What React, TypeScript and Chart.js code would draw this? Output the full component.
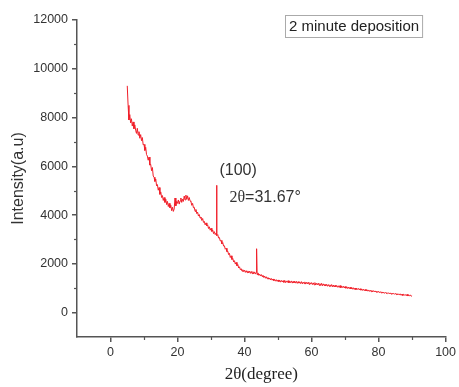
import React, { useEffect, useRef } from 'react';
import { Chart, registerables } from 'chart.js';

Chart.register(...registerables);

// ---- data ----
const scanStart = 5; // degrees 2θ
const scanStep = 0.25; // degrees per sample
const intensity = [
  // 5.00 – 9.75
  9300, 8500, 7900, 8120, 7780, 7950, 7650, 7820, 7540, 7700, 7480, 7350, 7560, 7280, 7420, 7150, 7300, 7050, 7180, 6880,
  // 10.00 – 14.75
  6900, 6650, 6780, 6480, 6420, 6250, 6380, 6050, 6080, 5820, 5950, 5600, 5550, 5380, 5480, 5200, 5250, 5020, 5130, 4850,
  // 15.00 – 19.75
  4950, 4720, 4800, 4600, 4720, 4520, 4650, 4430, 4560, 4350, 4480, 4300, 4400, 4180, 4320, 4150, 4250, 4700, 4380, 4560,
  // 20.00 – 24.75
  4480, 4620, 4450, 4580, 4700, 4520, 4650, 4560, 4780, 4620, 4820, 4650, 4790, 4600, 4720, 4580, 4560, 4400, 4480, 4300,
  // 25.00 – 29.75
  4320, 4150, 4230, 4060, 4120, 3960, 4020, 3880, 3920, 3780, 3860, 3700, 3740, 3600, 3680, 3560, 3600, 3450, 3520, 3380,
  // 30.00 – 34.75
  3460, 3330, 3390, 3240, 3320, 3200, 3260, 3160, 3200, 3060, 3080, 2940, 2960, 2820, 2870, 2730, 2740, 2600, 2640, 2500,
  // 35.00 – 39.75
  2520, 2380, 2430, 2260, 2330, 2180, 2220, 2080, 2130, 1990, 2060, 1920, 1970, 1830, 1880, 1760, 1800, 1700, 1760, 1680,
  // 40.00 – 44.75
  1740, 1650, 1720, 1640, 1710, 1630, 1700, 1610, 1690, 1600, 1680, 1590, 1670, 1580, 1650, 1560, 1630, 1530, 1580, 1500,
  // 45.00 – 49.75
  1560, 1480, 1530, 1440, 1500, 1410, 1470, 1390, 1440, 1370, 1420, 1340, 1400, 1330, 1380, 1310, 1360, 1290, 1350, 1280,
  // 50.00 – 54.75
  1340, 1270, 1330, 1250, 1320, 1260, 1310, 1240, 1320, 1230, 1300, 1240, 1310, 1220, 1290, 1230, 1300, 1210, 1280, 1220,
  // 55.00 – 59.75
  1290, 1210, 1280, 1200, 1270, 1210, 1260, 1190, 1270, 1180, 1250, 1190, 1260, 1170, 1240, 1180, 1250, 1160, 1230, 1170,
  // 60.00 – 64.75
  1230, 1150, 1220, 1140, 1230, 1130, 1200, 1140, 1210, 1120, 1190, 1110, 1200, 1100, 1180, 1110, 1170, 1090, 1160, 1080,
  // 65.00 – 69.75
  1150, 1080, 1140, 1070, 1150, 1060, 1130, 1050, 1120, 1060, 1110, 1040, 1100, 1030, 1110, 1020, 1090, 1030, 1080, 1010,
  // 70.00 – 74.75
  1070, 1000, 1060, 990, 1050, 980, 1040, 970, 1030, 960, 1020, 950, 1010, 940, 1000, 950, 990, 930, 980, 920,
  // 75.00 – 79.75
  970, 910, 960, 900, 950, 890, 940, 880, 930, 870, 920, 860, 910, 850, 900, 850, 890, 840, 880, 830,
  // 80.00 – 84.75
  870, 820, 860, 810, 850, 800, 840, 790, 830, 790, 820, 780, 810, 770, 810, 760, 800, 760, 790, 750,
  // 85.00 – 89.75
  790, 740, 780, 730, 770, 720, 770, 710, 760, 700, 750, 720, 740, 690, 750, 680, 730, 690, 720, 670,
  // 90.00
  700,
];
const peakAngles = [31.67, 43.6];
const peakIntensity = [5220, 2620];

const xRange = [-10, 100];
const yRange = [-1000, 12000];
const xTickValues = [0, 20, 40, 60, 80, 100];
const yTickValues = [0, 2000, 4000, 6000, 8000, 10000, 12000];
const xMinorTicks = [10, 30, 50, 70, 90];
const yMinorTicks = [1000, 3000, 5000, 7000, 9000, 11000];

const legendText = '2 minute deposition';
const peakLabel = '(100)';
const peakAngleSymbol = '2θ';
const peakAngleValue = '=31.67°';
const xTitle = '2θ(degree)';
const yTitle = 'Intensity(a.u)';

const SANS = '"Liberation Sans", Arial, sans-serif';
const SERIF = '"Liberation Serif", "Times New Roman", serif';
const AXIS = '#555';

function buildPoints() {
  const pts = intensity.map((v, i) => ({ x: scanStart + i * scanStep, y: v }));
  peakAngles.forEach((a, i) => pts.push({ x: a, y: peakIntensity[i] }));
  pts.sort((a, b) => a.x - b.x);
  return pts;
}

const decorPlugin = {
  id: 'decor',
  afterDraw(chart: any) {
    const { ctx, chartArea, scales } = chart;
    const x = scales.x;
    const y = scales.y;
    ctx.save();
    // minor ticks
    ctx.strokeStyle = AXIS;
    ctx.lineWidth = 1.2;
    xMinorTicks.forEach((v) => {
      const px = Math.round(x.getPixelForValue(v)) + 0.5;
      ctx.beginPath();
      ctx.moveTo(px, chartArea.bottom);
      ctx.lineTo(px, chartArea.bottom + 3);
      ctx.stroke();
    });
    yMinorTicks.forEach((v) => {
      const py = Math.round(y.getPixelForValue(v)) + 0.5;
      ctx.beginPath();
      ctx.moveTo(chartArea.left, py);
      ctx.lineTo(chartArea.left - 3, py);
      ctx.stroke();
    });

    // legend-like box
    ctx.font = '15px ' + SANS;
    const tw = ctx.measureText(legendText).width;
    const bx = Math.round(x.getPixelForValue(52)) + 0.5;
    const by = Math.round(y.getPixelForValue(12200)) + 0.5;
    ctx.strokeStyle = '#aaa';
    ctx.lineWidth = 1;
    ctx.strokeRect(bx, by, tw + 7, 22);
    ctx.fillStyle = '#222';
    ctx.textBaseline = 'middle';
    ctx.textAlign = 'left';
    ctx.fillText(legendText, bx + 3.5, by + 11.5);

    // peak annotation
    ctx.fillStyle = '#333';
    ctx.font = '16px ' + SANS;
    ctx.fillText(peakLabel, x.getPixelForValue(32.5), y.getPixelForValue(5840));
    const ax = x.getPixelForValue(35.5);
    const ay = y.getPixelForValue(4700);
    ctx.font = '16px ' + SERIF;
    ctx.fillText(peakAngleSymbol, ax, ay);
    const sw = ctx.measureText(peakAngleSymbol).width;
    ctx.font = '16px ' + SANS;
    ctx.fillText(peakAngleValue, ax + sw, ay);
    ctx.restore();
  },
};

export default function App() {
  const ref = useRef<HTMLCanvasElement>(null);

  useEffect(() => {
    if (!ref.current) return;
    const chart = new Chart(ref.current, {
      type: 'line',
      data: {
        datasets: [
          {
            data: buildPoints(),
            borderColor: '#f01e28',
            borderWidth: 1,
            pointRadius: 0,
            tension: 0,
            fill: false,
          },
        ],
      },
      options: {
        animation: false,
        responsive: false,
        parsing: false,
        layout: { padding: { left: 0, right: 11, top: 20, bottom: 0 } },
        plugins: {
          legend: { display: false },
          tooltip: { enabled: false },
        },
        scales: {
          x: {
            type: 'linear',
            min: xRange[0],
            max: xRange[1],
            afterBuildTicks: (s: any) => {
              s.ticks = xTickValues.map((v) => ({ value: v }));
            },
            afterFit: (s: any) => {
              s.height = 50;
            },
            ticks: {
              autoSkip: false,
              maxRotation: 0,
              padding: 3,
              color: '#333',
              font: { family: SANS, size: 12.5 },
              callback: (v: any) => String(v),
            },
            grid: {
              drawOnChartArea: false,
              drawTicks: true,
              tickLength: 5,
              color: AXIS,
              lineWidth: 1.5,
            },
            border: { display: true, color: AXIS, width: 1.5 },
            title: {
              display: true,
              text: xTitle,
              color: '#222',
              font: { family: SERIF, size: 17 },
              padding: { top: 0, bottom: 2 },
            },
          },
          y: {
            type: 'linear',
            min: yRange[0],
            max: yRange[1],
            afterBuildTicks: (s: any) => {
              s.ticks = yTickValues.map((v) => ({ value: v }));
            },
            afterFit: (s: any) => {
              s.width = 77;
            },
            ticks: {
              autoSkip: false,
              padding: 4,
              color: '#333',
              font: { family: SANS, size: 12.5 },
              callback: (v: any) => String(v),
            },
            grid: {
              drawOnChartArea: false,
              drawTicks: true,
              tickLength: 5,
              color: AXIS,
              lineWidth: 1.5,
            },
            border: { display: true, color: AXIS, width: 1.5 },
            title: {
              display: true,
              text: yTitle,
              color: '#333',
              font: { family: SANS, size: 16 },
              padding: { top: 9, bottom: 0 },
            },
          },
        },
      },
      plugins: [decorPlugin],
    } as any);
    return () => chart.destroy();
  }, []);

  return (
    <div style={{ position: 'fixed', left: 0, top: 0, width: 459, height: 387, background: '#fff' }}>
      <canvas ref={ref} width={459} height={387} style={{ display: 'block' }} />
    </div>
  );
}
